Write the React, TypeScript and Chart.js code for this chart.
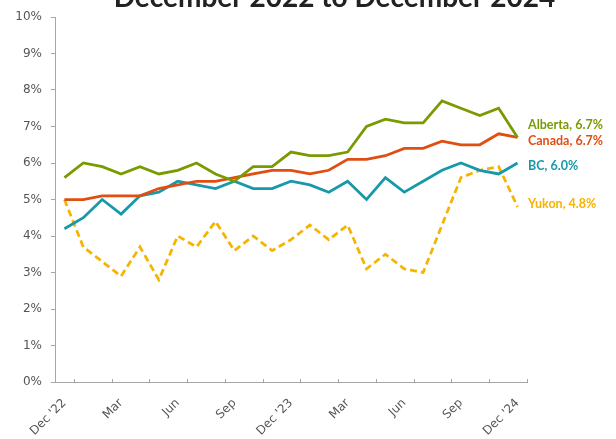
import React, { useEffect, useRef } from "react";
import { Chart, registerables } from "chart.js";

Chart.register(...registerables);

const TITLE = "December 2022 to December 2024";

const months = [
  "Dec '22", "Jan", "Feb", "Mar", "Apr", "May", "Jun", "Jul", "Aug", "Sep", "Oct", "Nov",
  "Dec '23", "Jan", "Feb", "Mar", "Apr", "May", "Jun", "Jul", "Aug", "Sep", "Oct", "Nov",
  "Dec '24",
];

const xTickLabels = ["Dec '22", "Mar", "Jun", "Sep", "Dec '23", "Mar", "Jun", "Sep", "Dec '24"];
const yTicks = [0, 1, 2, 3, 4, 5, 6, 7, 8, 9, 10];

const alberta = [5.6, 6.0, 5.9, 5.7, 5.9, 5.7, 5.8, 6.0, 5.7, 5.5, 5.9, 5.9, 6.3, 6.2, 6.2, 6.3, 7.0, 7.2, 7.1, 7.1, 7.7, 7.5, 7.3, 7.5, 6.7];
const canada = [5.0, 5.0, 5.1, 5.1, 5.1, 5.3, 5.4, 5.5, 5.5, 5.6, 5.7, 5.8, 5.8, 5.7, 5.8, 6.1, 6.1, 6.2, 6.4, 6.4, 6.6, 6.5, 6.5, 6.8, 6.7];
const bc = [4.2, 4.5, 5.0, 4.6, 5.1, 5.2, 5.5, 5.4, 5.3, 5.5, 5.3, 5.3, 5.5, 5.4, 5.2, 5.5, 5.0, 5.6, 5.2, 5.5, 5.8, 6.0, 5.8, 5.7, 6.0];
const yukon = [5.0, 3.7, 3.3, 2.9, 3.7, 2.8, 4.0, 3.7, 4.4, 3.6, 4.0, 3.6, 3.9, 4.3, 3.9, 4.3, 3.1, 3.5, 3.1, 3.0, 4.3, 5.6, 5.8, 5.9, 4.8];

const seriesNames = ["Alberta", "Canada", "BC", "Yukon"];
const seriesData = [alberta, canada, bc, yukon];
const seriesColors = ["#7a9a01", "#e04e12", "#1898ab", "#f5b400"];
const seriesDashed = [false, false, false, true];
// vertical nudges (px) so end labels do not collide
const labelNudge = [-12.5, 4, 3, -3];

const AXIS_COLOR = "#a6a6a6";
const TEXT_COLOR = "#555555";

const titlePlugin = {
  id: "cutTitle",
  afterDraw(chart: any) {
    const ctx = chart.ctx;
    ctx.save();
    ctx.font = "bold 28px Lato";
    ctx.fillStyle = "#222222";
    ctx.textAlign = "center";
    ctx.textBaseline = "alphabetic";
    ctx.fillText(TITLE, 334.5, 7);
    ctx.restore();
  },
};

const insideTicksPlugin = {
  id: "insideTicks",
  afterDraw(chart: any) {
    const { ctx, chartArea } = chart;
    const n = months.length;
    const w = (chartArea.right - chartArea.left) / n;
    ctx.save();
    ctx.strokeStyle = AXIS_COLOR;
    ctx.lineWidth = 1;
    for (let k = 1; k <= n; k += 2) {
      const x = Math.round(chartArea.left + k * w) + 0.5;
      ctx.beginPath();
      ctx.moveTo(x, chartArea.bottom - 3);
      ctx.lineTo(x, chartArea.bottom);
      ctx.stroke();
    }
    ctx.restore();
  },
};

const endLabelsPlugin = {
  id: "endLabels",
  afterDraw(chart: any) {
    const { ctx, chartArea } = chart;
    const yScale = chart.scales.y;
    ctx.save();
    ctx.font = "bold 12.5px Lato";
    ctx.textAlign = "left";
    ctx.textBaseline = "middle";
    seriesNames.forEach((name, i) => {
      const data = seriesData[i];
      const last = data[data.length - 1];
      const y = yScale.getPixelForValue(last) + labelNudge[i];
      ctx.fillStyle = seriesColors[i];
      ctx.fillText(`${name}, ${last.toFixed(1)}%`, chartArea.right + 1, y);
    });
    ctx.restore();
  },
};

export default function App() {
  const canvasRef = useRef<HTMLCanvasElement | null>(null);

  useEffect(() => {
    if (!canvasRef.current) return;
    const chart = new Chart(canvasRef.current, {
      type: "line",
      data: {
        labels: months,
        datasets: seriesNames.map((name, i) => ({
          label: name,
          data: seriesData[i],
          borderColor: seriesColors[i],
          backgroundColor: seriesColors[i],
          borderWidth: 2.75,
          borderDash: seriesDashed[i] ? [7, 4] : [],
          pointRadius: 0,
          tension: 0,
          fill: false,
        })),
      },
      options: {
        responsive: false,
        animation: false,
        devicePixelRatio: 1,
        layout: { padding: { top: 17, right: 89, left: 0, bottom: 0 } },
        plugins: {
          legend: { display: false },
          title: { display: false },
          tooltip: { enabled: false },
        },
        scales: {
          x: {
            type: "category",
            offset: true,
            grid: { display: false },
            border: { display: true, color: AXIS_COLOR, width: 1 },
            ticks: {
              autoSkip: false,
              maxRotation: 45,
              minRotation: 45,
              padding: 6,
              color: TEXT_COLOR,
              font: { family: "DejaVu Sans", size: 12 },
              callback: (_v: any, i: number) => (i % 3 === 0 ? xTickLabels[i / 3] : ""),
            },
            afterFit: (s: any) => {
              s.height = 57;
            },
          },
          y: {
            min: 0,
            max: 10,
            afterBuildTicks: (s: any) => {
              s.ticks = yTicks.map((v) => ({ value: v }));
            },
            grid: {
              drawOnChartArea: false,
              drawTicks: true,
              tickLength: 4,
              color: AXIS_COLOR,
            },
            border: { display: true, color: AXIS_COLOR, width: 1 },
            ticks: {
              padding: 9,
              color: TEXT_COLOR,
              font: { family: "DejaVu Sans", size: 12 },
              callback: (v: any) => `${v}%`,
            },
            afterFit: (s: any) => {
              s.width = 55;
            },
          },
        },
      },
      plugins: [titlePlugin, insideTicksPlugin, endLabelsPlugin],
    });
    return () => chart.destroy();
  }, []);

  return (
    <div style={{ position: "absolute", left: 0, top: 0, width: 616, height: 439 }}>
      <canvas ref={canvasRef} width={616} height={439} style={{ width: 616, height: 439 }} />
    </div>
  );
}
